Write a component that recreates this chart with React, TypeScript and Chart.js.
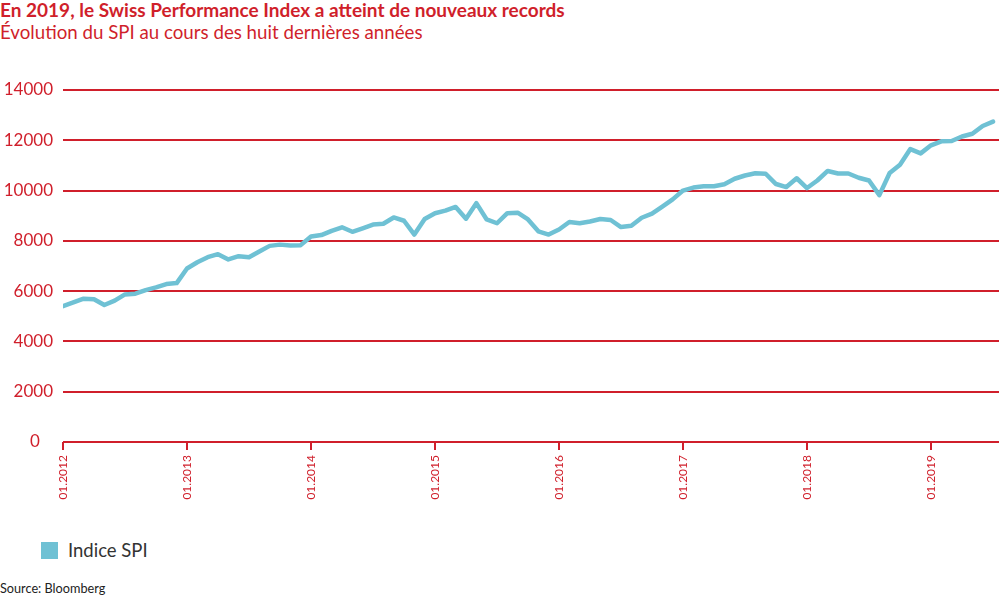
import React, { useEffect, useRef } from "react";
import { Chart, registerables } from "chart.js";

Chart.register(...registerables);

const RED = "#d01f2b";
const LINE_BLUE = "#6fc1d4";

const title = "En 2019, le Swiss Performance Index a atteint de nouveaux records";
const subtitle = "Évolution du SPI au cours des huit dernières années";
const seriesName = "Indice SPI";
const source = "Source: Bloomberg";

const startYear = 2012;
const yTicks = [0, 2000, 4000, 6000, 8000, 10000, 12000, 14000];

// Monthly SPI values, 01.2012 – 07.2019
const spiValues = [
  5400, 5550, 5700, 5680, 5450, 5620, 5870, 5900, 6040, 6150, 6280, 6320,
  6900, 7150, 7350, 7470, 7260, 7390, 7350, 7580, 7800, 7850, 7820, 7830,
  8170, 8230, 8400, 8540, 8360, 8500, 8650, 8680, 8930, 8800, 8250, 8870,
  9100, 9200, 9350, 8880, 9500, 8850, 8700, 9100, 9120, 8850, 8380, 8250,
  8450, 8750, 8700, 8770, 8870, 8830, 8550, 8600, 8920, 9080, 9360, 9650,
  10000, 10120, 10170, 10170, 10250, 10470, 10600, 10690, 10670, 10260, 10140, 10490,
  10100, 10400, 10780, 10680, 10680, 10510, 10400, 9820, 10700, 11030, 11650, 11480,
  11800, 11960, 11970, 12150, 12260, 12570, 12740,
];

const FONT = "Lato, 'Open Sans', sans-serif";

export default function App() {
  const canvasRef = useRef<HTMLCanvasElement | null>(null);

  useEffect(() => {
    const canvas = canvasRef.current;
    if (!canvas) return;
    const points = spiValues.map((v, i) => ({ x: i, y: v }));
    const chart = new Chart(canvas, {
      type: "line",
      data: {
        datasets: [
          {
            label: seriesName,
            data: points,
            borderColor: LINE_BLUE,
            backgroundColor: LINE_BLUE,
            borderWidth: 4.5,
            pointRadius: 0,
            tension: 0,
            borderJoinStyle: "round",
            borderCapStyle: "round",
          },
        ],
      },
      options: {
        responsive: false,
        animation: false,
        devicePixelRatio: 1,
        layout: { padding: { top: 90, left: 0, right: 0, bottom: 0 } },
        plugins: {
          legend: { display: false },
          tooltip: { enabled: false },
        },
        scales: {
          x: {
            type: "linear",
            min: 0,
            max: 90.58,
            afterFit: (scale: any) => {
              scale.height = 78;
            },
            afterBuildTicks: (scale: any) => {
              scale.ticks = scale.ticks.filter((t: any) => t.value % 12 === 0);
            },
            border: { display: false },
            grid: {
              display: true,
              drawOnChartArea: false,
              drawTicks: true,
              tickLength: 8,
              color: RED,
              lineWidth: 2,
            },
            ticks: {
              stepSize: 12,
              minRotation: 90,
              maxRotation: 90,
              padding: 5,
              color: RED,
              font: { family: FONT, size: 12 },
              callback: (v: any) => "01." + (startYear + Math.round(Number(v) / 12)),
            },
          },
          y: {
            min: yTicks[0],
            max: yTicks[yTicks.length - 1],
            afterFit: (scale: any) => {
              scale.width = 63;
            },
            afterBuildTicks: (scale: any) => {
              scale.ticks = yTicks.map((v) => ({ value: v }));
            },
            border: { display: false },
            grid: {
              color: RED,
              lineWidth: 2,
              drawTicks: false,
            },
            ticks: {
              stepSize: 2000,
              padding: 10,
              color: RED,
              font: { family: FONT, size: 17 },
              callback: (v: any) => (Number(v) === 0 ? "0   " : String(v)),
            },
          },
        },
      },
    });
    return () => chart.destroy();
  }, []);

  return (
    <div
      style={{
        position: "fixed",
        left: 0,
        top: 0,
        width: 999,
        height: 597,
        background: "#ffffff",
        fontFamily: FONT,
        overflow: "hidden",
      }}
    >
      <div
        style={{
          position: "absolute",
          left: 0,
          top: -1,
          fontSize: 19,
          fontWeight: 700,
          color: RED,
          lineHeight: "22px",
          whiteSpace: "nowrap",
        }}
      >
        {title}
      </div>
      <div
        style={{
          position: "absolute",
          left: 0,
          top: 21,
          fontSize: 18.7,
          fontWeight: 400,
          color: RED,
          lineHeight: "22px",
          whiteSpace: "nowrap",
        }}
      >
        {subtitle}
      </div>
      <canvas
        ref={canvasRef}
        width={999}
        height={520}
        style={{ position: "absolute", left: 0, top: 0, width: 999, height: 520 }}
      />
      <div
        style={{
          position: "absolute",
          left: 41,
          top: 542,
          width: 17,
          height: 17,
          background: LINE_BLUE,
        }}
      />
      <div
        style={{
          position: "absolute",
          left: 68,
          top: 539,
          fontSize: 18.5,
          color: "#333333",
          lineHeight: "22px",
          whiteSpace: "nowrap",
        }}
      >
        {seriesName}
      </div>
      <div
        style={{
          position: "absolute",
          left: 0,
          top: 580,
          fontSize: 12.7,
          color: "#222222",
          lineHeight: "16px",
          whiteSpace: "nowrap",
        }}
      >
        {source}
      </div>
    </div>
  );
}
